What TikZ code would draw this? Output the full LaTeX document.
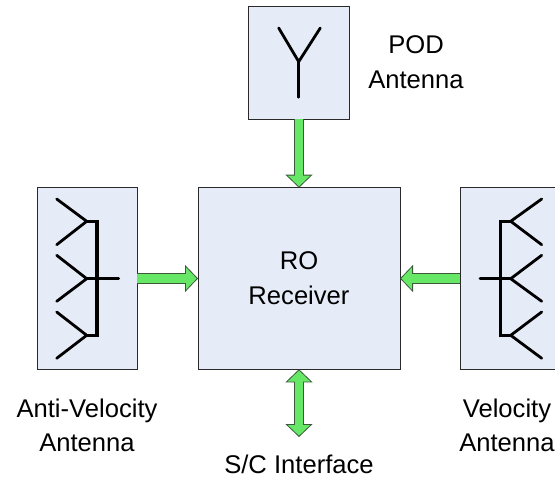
\documentclass[tikz,border=0pt]{standalone}
\usepackage{fontspec}
\setmainfont{Liberation Sans}
\usetikzlibrary{arrows.meta}
\definecolor{boxfill}{HTML}{E6ECF7}
\definecolor{boxline}{HTML}{2A2A2A}
\definecolor{arrowfill}{HTML}{66E866}
\definecolor{arrowline}{HTML}{3A5A3A}
\tikzset{
  block/.style={draw=boxline,fill=boxfill,line width=0.9pt,inner sep=0pt,outer sep=0pt,rectangle,anchor=north west},
  label/.style={inner sep=0pt,align=center,font=\fontsize{25.6}{34.5}\selectfont},
  element/.style={line width=2.8pt,black,line cap=round,line join=round},
  feed/.style={line width=3.4pt,black,line cap=round,line join=miter},
  bigtip/.tip={Triangle[length=13pt,width=27pt,line width=0.8pt,fill=arrowfill,color=arrowline]},
  fatout/.style={line width=10.2pt,arrowline},
  fatin/.style={line width=8.6pt,arrowfill}
}
\begin{document}
\begin{tikzpicture}[x=1pt,y=-1pt]
\useasboundingbox (0,0) rectangle (555,480);
\clip (0,0) rectangle (555,480);
\node[block,minimum width=101pt,minimum height=113pt] (pod) at (248.5,6.4) {};
\node[block,minimum width=100.4pt,minimum height=181.6pt] (anti) at (37,187.7) {};
\node[block,minimum width=202pt,minimum height=181.6pt] (rcv) at (198,187.7) {};
\node[block,minimum width=110pt,minimum height=181.6pt] (velo) at (460,187.7) {};
\coordinate (sc) at (299,437);
% connectors
\draw[fatout,-{bigtip}] (pod.south) -- (rcv.north);
\draw[fatin,shorten >=12pt] (pod.south) -- (rcv.north);
\draw[fatout,-{bigtip}] (anti.east) -- (rcv.west);
\draw[fatin,shorten >=12pt] (anti.east) -- (rcv.west);
\draw[fatout,-{bigtip}] (velo.west) -- (rcv.east);
\draw[fatin,shorten >=12pt] (velo.west) -- (rcv.east);
\draw[fatout,{bigtip}-{bigtip}] (rcv.south) -- (sc);
\draw[fatin,shorten >=12pt,shorten <=12pt] (rcv.south) -- (sc);
% POD antenna
\draw[element] (278.7,28) -- (298.7,61.7) -- (320.3,28);
\draw[element] (298.7,61.7) -- (298.7,97.3);
% anti-velocity antenna
\draw[element] (56.7,199) -- (86.7,221.3) -- (56.7,244.7);
\draw[element] (56.7,255.3) -- (86.7,278.7) -- (56.7,301.3);
\draw[element] (56.7,312) -- (86.7,335.3) -- (56.7,358.3);
\draw[feed] (86.7,221.3) -- (97,221.3) -- (97,335.3) -- (86.7,335.3);
\draw[element] (86.7,278.7) -- (118.7,278.7);
% velocity antenna
\draw[element] (541.7,199) -- (510.7,221.3) -- (541.7,244.7);
\draw[element] (541.7,255.3) -- (510.7,278.7) -- (541.7,301.3);
\draw[element] (541.7,312) -- (510.7,335.3) -- (541.7,358.3);
\draw[feed] (510.7,221.3) -- (500.3,221.3) -- (500.3,335.3) -- (510.7,335.3);
\draw[element] (510.7,278.7) -- (480,278.7);
% labels
\node[label] (podl) at (416,62) {POD\\Antenna};
\node[label] (rcvl) at (299,278) {RO\\Receiver};
\node[label] (antil) at (87,425.5) {Anti-Velocity\\Antenna};
\node[label] (velol) at (507,425.5) {Velocity\\Antenna};
\node[label] (scl) at (299,464) {S/C Interface};
\end{tikzpicture}
\end{document}
